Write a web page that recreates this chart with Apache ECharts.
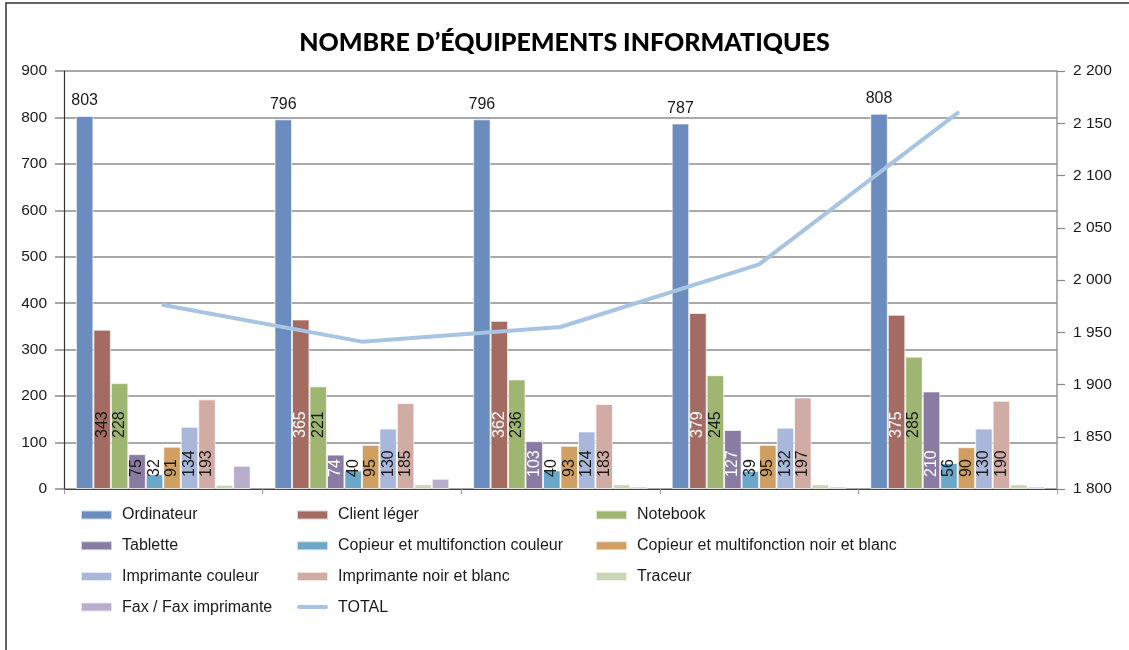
<!DOCTYPE html>
<html lang="fr">
<head>
<meta charset="utf-8">
<title>Nombre d’équipements informatiques</title>
<script src="https://cdn.jsdelivr.net/npm/echarts@6/dist/echarts.min.js"></script>
<style>
  html, body { margin: 0; padding: 0; background: #fff; }
  #chart { width: 1129px; height: 650px; }
</style>
</head>
<body>
<div id="chart"></div>
<script>
// Périodes (non affichées sur l'axe)
const categories = ['Période 1', 'Période 2', 'Période 3', 'Période 4', 'Période 5'];

// Nombre d'équipements par type
const ordinateur        = [803, 796, 796, 787, 808];
const clientLeger       = [343, 365, 362, 379, 375];
const notebook          = [228, 221, 236, 245, 285];
const tablette          = [75, 74, 103, 127, 210];
const copieurCouleur    = [32, 40, 40, 39, 56];
const copieurNoirBlanc  = [91, 95, 93, 95, 90];
const imprimanteCouleur = [134, 130, 124, 132, 130];
const imprimanteNB      = [193, 185, 183, 197, 190];
const traceur           = [9, 10, 10, 10, 10];
const fax               = [50, 22, 5, 5, 5];

// Total (axe de droite)
const total = [1976, 1941, 1955, 2015, 2160];

// Graduations
const leftTicks  = { min: 0, max: 900, interval: 100 };
const rightTicks = { min: 1800, max: 2200, interval: 50 };

const FONT = '"Liberation Sans", Arial, sans-serif';
const DARK = '#1a1a1a';
const TOTAL_COLOR = '#a7c5e2';

function fmtSpace(v) {
  return String(v).replace(/\B(?=(\d{3})+(?!\d))/g, ' ');
}

// Étiquette verticale placée près de la base de la barre
function vLabel(distance) {
  return {
    show: true,
    position: 'insideBottom',
    distance: distance,
    rotate: 90,
    align: 'left',
    verticalAlign: 'middle',
    fontFamily: FONT,
    fontSize: 16,
    color: DARK
  };
}

// Valeurs avec couleur d'étiquette claire à partir de la 2e période
function withLightLabels(values) {
  return values.map((v, i) => i === 0 ? v : { value: v, label: { color: '#ffffff' } });
}

function bar(name, data, color, label) {
  return {
    name: name,
    type: 'bar',
    data: data,
    barGap: '0%',
    barCategoryGap: '12%',
    itemStyle: { color: color, borderColor: 'rgba(255,255,255,0.65)', borderWidth: 1 },
    label: label || { show: false },
    emphasis: { disabled: true },
    animation: false
  };
}

const series = [
  bar('Ordinateur', ordinateur, '#6b8cbf', {
    show: true, position: 'top', distance: 7,
    fontFamily: FONT, fontSize: 16, color: DARK
  }),
  bar('Client léger', withLightLabels(clientLeger), '#a36b61', vLabel(51)),
  bar('Notebook', notebook, '#9fb672', vLabel(51)),
  bar('Tablette', withLightLabels(tablette), '#8a7ba3', vLabel(12)),
  bar('Copieur et multifonction couleur', copieurCouleur, '#6aa7c9', vLabel(12)),
  bar('Copieur et multifonction noir et blanc', copieurNoirBlanc, '#d19f62', vLabel(12)),
  bar('Imprimante couleur', imprimanteCouleur, '#a9b8da', vLabel(12)),
  bar('Imprimante noir et blanc', imprimanteNB, '#d1aca5', vLabel(12)),
  bar('Traceur', traceur, '#c9d6b5'),
  bar('Fax / Fax imprimante', fax, '#b8aecb'),
  {
    name: 'TOTAL',
    type: 'line',
    yAxisIndex: 1,
    data: total,
    symbol: 'none',
    z: 5,
    lineStyle: { color: TOTAL_COLOR, width: 4, cap: 'round' },
    itemStyle: { color: TOTAL_COLOR },
    emphasis: { disabled: true },
    animation: false
  }
];

// Icône de légende pour la courbe : trait épais aux bouts arrondis,
// centré dans une boîte de 31 x 9
const lineIcon = 'path://M0,0 L0,0 M2,2.5 L29,2.5 A2,2 0 0 1 29,6.5 L2,6.5 A2,2 0 0 1 2,2.5 Z M31,9 L31,9';

const legendCommon = {
  orient: 'vertical',
  top: 507,
  padding: 0,
  itemWidth: 31,
  itemHeight: 9,
  itemGap: 14.7,
  selectedMode: false,
  textStyle: {
    fontFamily: FONT, fontSize: 16, lineHeight: 16, color: DARK,
    padding: [0, 0, 0, 5]
  }
};

function rectItems(names) {
  return names.map(n => ({ name: n, icon: 'rect' }));
}

const option = {
  backgroundColor: '#ffffff',
  animation: false,
  title: {
    text: 'NOMBRE D’ÉQUIPEMENTS INFORMATIQUES',
    left: 'center',
    top: 25,
    textStyle: {
      fontFamily: 'Lato, "Open Sans", sans-serif',
      fontWeight: 900,
      fontSize: 25,
      color: '#000'
    }
  },
  legend: [
    Object.assign({}, legendCommon, {
      left: 80,
      data: rectItems(['Ordinateur', 'Tablette', 'Imprimante couleur', 'Fax / Fax imprimante'])
    }),
    Object.assign({}, legendCommon, {
      left: 296,
      data: rectItems(['Client léger', 'Copieur et multifonction couleur', 'Imprimante noir et blanc'])
        .concat([{ name: 'TOTAL', icon: lineIcon, itemStyle: { color: TOTAL_COLOR } }])
    }),
    Object.assign({}, legendCommon, {
      left: 595,
      data: rectItems(['Notebook', 'Copieur et multifonction noir et blanc', 'Traceur'])
    })
  ],
  grid: { left: 64, right: 72, top: 71, bottom: 161 },
  xAxis: {
    type: 'category',
    data: categories,
    axisLine: { lineStyle: { color: '#444', width: 1.2 } },
    axisTick: { show: true, alignWithLabel: false, length: 5, lineStyle: { color: '#999' } },
    axisLabel: { show: false },
    splitLine: { show: false }
  },
  yAxis: [
    {
      type: 'value',
      min: leftTicks.min, max: leftTicks.max, interval: leftTicks.interval,
      axisLine: { show: true, lineStyle: { color: '#333', width: 1.2 } },
      axisTick: { show: true, length: 9, lineStyle: { color: '#888', width: 1.5 } },
      axisLabel: { fontFamily: FONT, fontSize: 15.5, color: DARK, margin: 17 },
      splitLine: { show: true, lineStyle: { color: '#8c8c8c', width: 1.6 } }
    },
    {
      type: 'value',
      position: 'right',
      min: rightTicks.min, max: rightTicks.max, interval: rightTicks.interval,
      axisLine: { show: true, lineStyle: { color: '#999', width: 1.5 } },
      axisTick: { show: true, inside: false, length: 8, lineStyle: { color: '#888', width: 1.2 } },
      axisLabel: { fontFamily: FONT, fontSize: 15.5, color: DARK, margin: 16, formatter: fmtSpace },
      splitLine: { show: false }
    }
  ],
  graphic: [
    {
      type: 'rect',
      silent: true,
      z: 100,
      shape: { x: 6, y: 3, width: 1140, height: 700 },
      style: { fill: 'none', stroke: '#333', lineWidth: 1.5 }
    }
  ],
  series: series
};

const chart = echarts.init(document.getElementById('chart'), null, { renderer: 'canvas' });
chart.setOption(option);
</script>
</body>
</html>
